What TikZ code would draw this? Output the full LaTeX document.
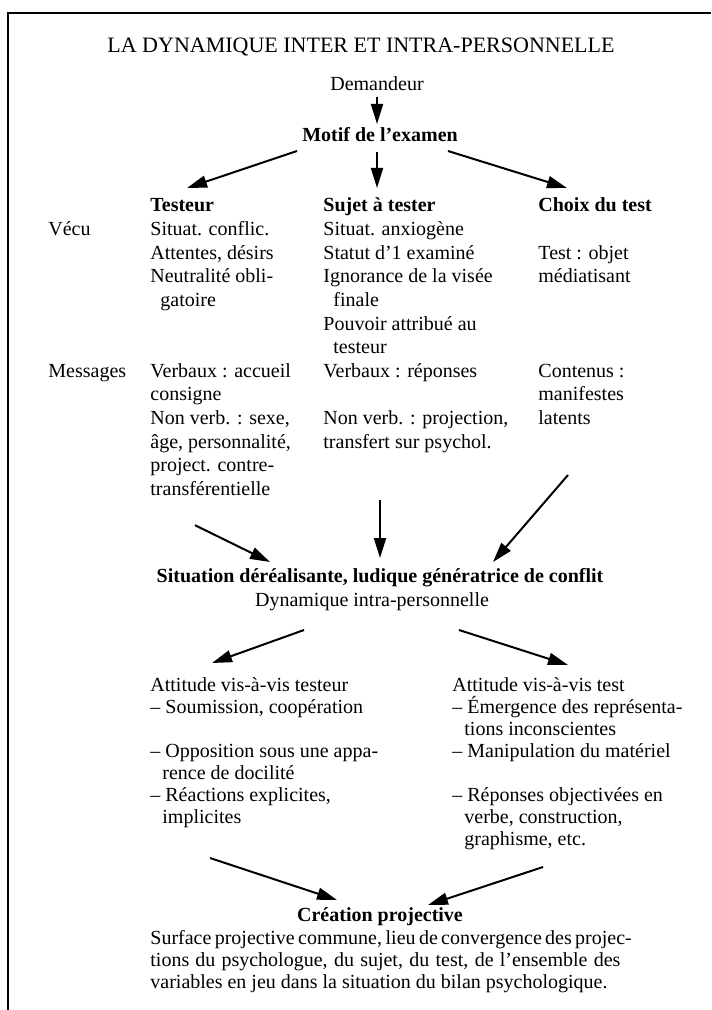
\documentclass[tikz,border=0pt]{standalone}
\usepackage{fontspec}
\setmainfont{Liberation Serif}
\usetikzlibrary{arrows.meta}

\begin{document}
\begin{tikzpicture}[x=0.5pt,y=-0.5pt,
		txt/.style={inner sep=0pt,anchor=base west},
		ctr/.style={inner sep=0pt,anchor=base},
		arr/.style={line width=1pt,-{Triangle[length=10pt,width=6pt]}}]
				\def\rowsep{23.6} % upper table
				\def\rowsepb{22}  % lower lists

				\useasboundingbox (0,0) rectangle (711,1010);
				\draw[line width=1pt] (711,13) -- (8,13) -- (8,1010);

				\node[ctr,font=\fontsize{11}{13}\selectfont] (title) at (361,53) {LA DYNAMIQUE INTER ET INTRA-PERSONNELLE};
				\node[ctr] (dem) at (377,91) {Demandeur};
				\node[ctr,font=\bfseries] (motif) at (380,142) {Motif de l'examen};

				% inter-personnelle
				\node[txt,font=\bfseries] (testeur) at (150,212) {Testeur};
				\node[txt,font=\bfseries] (sujet) at (323,212) {Sujet à tester};
				\node[txt,font=\bfseries] (choix) at (538,212) {Choix du test};
				\node[txt] (vecu) at (48,{212+\rowsep}) {Vécu};
				\node[txt] (messages) at (48,{212+7*\rowsep}) {Messages};

				\foreach \txt [count=\i] in {{Situat. conflic.},{Attentes, désirs},{Neutralité obli-},{\hspace*{5pt}gatoire},{},{},
					{Verbaux : accueil},{consigne},{Non verb. : sexe,},{âge, personnalité,},{project. contre-},{transférentielle}}
				{
				  \node[txt] (c1-\i) at (150,{212+\i*\rowsep}) {\txt};
				}
				\foreach \txt [count=\i] in {{Situat. anxiogène},{Statut d'1 examiné},{Ignorance de la visée},{\hspace*{5pt}finale},
					{Pouvoir attribué au},{\hspace*{5pt}testeur},{Verbaux : réponses},{},{Non verb. : projection,},{transfert sur psychol.}}
				{
				  \node[txt] (c2-\i) at (323,{212+\i*\rowsep}) {\txt};
				}
				\foreach \txt [count=\i] in {{},{Test : objet},{médiatisant},{},{},{},{Contenus :},{manifestes},{latents}}
				{
				  \node[txt] (c3-\i) at (538,{212+\i*\rowsep}) {\txt};
				}

				\node[ctr,font=\bfseries] (situation) at (380,582) {Situation déréalisante, ludique génératrice de conflit};
				\node[ctr] (dyn) at (372,606) {Dynamique intra-personnelle};

				% intra-personnelle
				\node[txt] (att1) at (150,691.5) {Attitude vis-à-vis testeur};
				\node[txt] (att2) at (452,691.5) {Attitude vis-à-vis test};
				\foreach \txt [count=\i] in {{-- Soumission, coopération},{},{-- Opposition sous une appa-},{\hspace*{6pt}rence de docilité},
					{-- Réactions explicites,},{\hspace*{6pt}implicites}}
				{
				  \node[txt] (l-\i) at (150,{691.5+\i*\rowsepb}) {\txt};
				}
				\foreach \txt [count=\i] in {{-- Émergence des représenta-},{\hspace*{6pt}tions inconscientes},{-- Manipulation du matériel},{},
					{-- Réponses objectivées en},{\hspace*{6pt}verbe, construction,},{\hspace*{6pt}graphisme, etc.}}
				{
				  \node[txt] (r-\i) at (452,{691.5+\i*\rowsepb}) {\txt};
				}

				\node[ctr,font=\bfseries] (crea) at (380,921) {Création projective};
				\foreach \txt [count=\i] in {{\makebox[235pt][s]{Surface projective commune, lieu de convergence des projec-}},
					{\makebox[235pt][s]{tions du psychologue, du sujet, du test, de l'ensemble des}},
					{variables en jeu dans la situation du bilan psychologique.}}
				{
				  \node[txt] (p-\i) at (150,{922+\i*\rowsepb}) {\txt};
				}

				% arrows
				\draw[arr] ([shift={(0,6)}]dem.base) -- ([shift={(-3,-18)}]motif.base);
				\draw[arr] ([shift={(-83,9)}]motif.base) -- ([shift={(37,-24)}]testeur.base west);
				\draw[arr] ([shift={(-3,10)}]motif.base) -- ([shift={(54,-24)}]sujet.base west);
				\draw[arr] ([shift={(68,9)}]motif.base) -- ([shift={(29,-24)}]choix.base west);

				\draw[arr] ([shift={(45,30)}]c1-12.base west) -- ([shift={(-110,-20)}]situation.base);
				\draw[arr] ([shift={(57,52)}]c2-10.base west) -- ([shift={(0,-24)}]situation.base);
				\draw[arr] ([shift={(30,50.6)}]c3-9.base west) -- ([shift={(113,-20)}]situation.base);

				\draw[arr] ([shift={(-68,24)}]dyn.base) -- ([shift={(62,-28.5)}]att1.base west);
				\draw[arr] ([shift={(87,24)}]dyn.base) -- ([shift={(116,-26.5)}]att2.base west);

				\draw[arr] ([shift={(60,34.5)}]l-6.base west) -- ([shift={(-43,-21)}]crea.base);
				\draw[arr] ([shift={(91,21.5)}]r-7.base west) -- ([shift={(48,-16)}]crea.base);
\end{tikzpicture}
\end{document}
